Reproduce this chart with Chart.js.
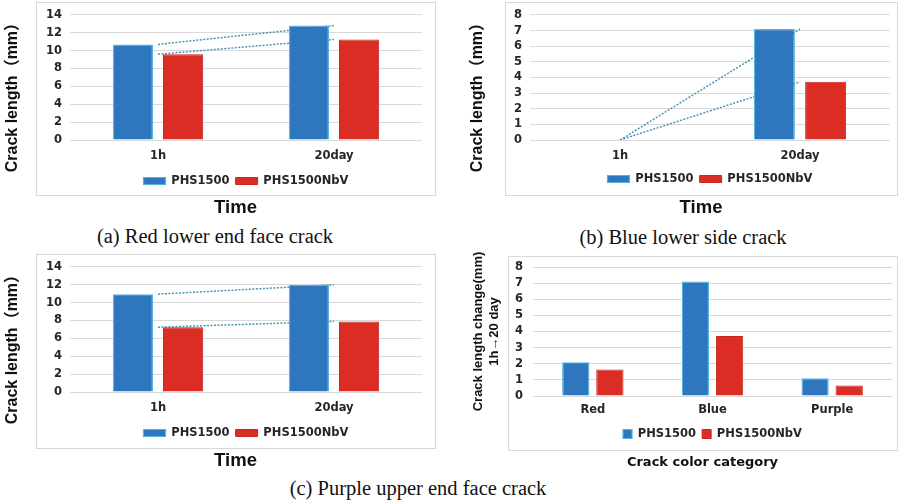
<!DOCTYPE html>
<html><head><meta charset="utf-8">
<script src="https://cdn.jsdelivr.net/npm/chart.js@4.4.1/dist/chart.umd.min.js"></script>
<style>
html,body{margin:0;padding:0;background:#fff;}
#page{position:relative;width:902px;height:500px;overflow:hidden;background:#fff;}
canvas{position:absolute;}
.cap{position:absolute;transform:translate(-50%,-50%);font-family:'Liberation Serif','Times New Roman',serif;font-size:20.5px;color:#111;white-space:nowrap;line-height:1;}
</style></head><body>
<div id="page">
<canvas id="cA" width="450" height="222" style="left:0;top:0"></canvas>
<canvas id="cB" width="452" height="222" style="left:450px;top:0"></canvas>
<canvas id="cC" width="450" height="222" style="left:0;top:252px"></canvas>
<canvas id="cD" width="452" height="222" style="left:450px;top:250px"></canvas>
<div class="cap" style="left:215px;top:236px">(a) Red lower end face crack</div>
<div class="cap" style="left:683px;top:237px">(b) Blue lower side crack</div>
<div class="cap" style="left:418px;top:488px">(c) Purple upper end face crack</div>
</div>
<script>
// ---- data ----
const timeLabels = ['1h', '20day'];
const colorCategories = ['Red', 'Blue', 'Purple'];
const seriesNames = ['PHS1500', 'PHS1500NbV'];
const redPHS1500 = [10.7, 12.8];
const redPHS1500NbV = [9.6, 11.25];
const bluePHS1500 = [0, 7.1];
const bluePHS1500NbV = [0, 3.72];
const purplePHS1500 = [10.95, 12.0];
const purplePHS1500NbV = [7.25, 7.9];
const changePHS1500 = [2.1, 7.1, 1.1];
const changePHS1500NbV = [1.65, 3.72, 0.65];
const yTitleTime = 'Crack length（mm）';
const yTitleChange = ['Crack length change(mm)', '1h→20 day'];
const xTitleTime = 'Time';
const xTitleCategory = 'Crack color category';

// ---- styles ----
const BLUE = '#2e76be', BLUE_EDGE = '#56b3dc';
const RED = '#dc2d24', RED_EDGE = '#c42820';
const TREND = '#4d93b3';
const GRID = '#d9d9d9';
const TXT = '#262626';
const TICK_FONT = {family: "'DejaVu Sans', Verdana, sans-serif", weight: 'bold', size: 11.5};
const SANS = "'Liberation Sans', Arial, 'Noto Sans CJK SC', sans-serif";

const frameTitlePlugin = {
  id: 'frameTitle',
  beforeDraw(chart, args, o) {
    const c = chart.ctx; c.save();
    c.strokeStyle = o.frameColor; c.lineWidth = 1;
    c.strokeRect(o.fx + 0.5, o.fy + 0.5, o.fw, o.fh);
    c.restore();
  },
  afterDraw(chart, args, o) {
    const c = chart.ctx; c.save();
    c.font = o.font; c.fillStyle = o.color; c.textAlign = 'center'; c.textBaseline = 'middle';
    c.fillText(o.text, o.fx + o.fw / 2, o.ty);
    c.restore();
  }
};

function buildChart(id, o) {
  const datasets = [
    {type: 'bar', label: seriesNames[0], data: o.s1, backgroundColor: BLUE, borderColor: BLUE_EDGE, borderWidth: 1.2, order: 1},
    {type: 'bar', label: seriesNames[1], data: o.s2, backgroundColor: RED, borderColor: RED_EDGE, borderWidth: 1, order: 1}
  ];
  if (o.trend) {
    [o.s1, o.s2].forEach((d, i) => datasets.push({
      type: 'line', label: 'trend' + i, data: d, isTrend: true, borderColor: TREND, borderWidth: 1.5,
      borderDash: [2, 1.5], pointRadius: 0, fill: false, tension: 0, order: 2
    }));
  }
  const yLH = o.yTitleSize * o.yTitleLH;
  return new Chart(document.getElementById(id), {
    type: 'bar',
    data: {labels: o.labels, datasets},
    options: {
      responsive: false, animation: false, devicePixelRatio: 1,
      datasets: {bar: {categoryPercentage: 0.57, barPercentage: 0.8}},
      layout: {padding: o.pad},
      plugins: {
        legend: {
          position: 'bottom', fullSize: false,
          labels: {
            boxWidth: o.boxW, boxHeight: o.boxH, padding: 6, color: TXT, font: TICK_FONT,
            filter: (item, data) => !data.datasets[item.datasetIndex].isTrend
          }
        },
        tooltip: {enabled: false},
        frameTitle: Object.assign({frameColor: GRID, color: '#111', text: o.xTitle, font: o.xTitleFont}, o.frame)
      },
      scales: {
        x: {
          grid: {display: false, drawTicks: false}, border: {display: false},
          ticks: {padding: o.xPad, color: TXT, font: TICK_FONT},
          afterFit(s) { s.height = o.xH; }
        },
        y: {
          min: 0, max: o.yMax,
          ticks: {stepSize: o.yStep, padding: o.yPad, color: TXT, font: TICK_FONT, autoSkip: false},
          grid: {color: GRID, drawTicks: false, lineWidth: 1}, border: {display: false},
          title: {
            display: true, text: o.yTitle, align: o.yAlign, color: '#111',
            font: {family: SANS, weight: 'bold', size: o.yTitleSize, lineHeight: o.yTitleLH},
            padding: {top: o.yTitleCenter - yLH / 2, bottom: 0}
          },
          afterFit(s) { s.width = o.yW; }
        }
      }
    },
    plugins: [frameTitlePlugin]
  });
}

const timeTitleFont = "bold 18.5px 'Liberation Sans', Arial, sans-serif";

buildChart('cA', {
  labels: timeLabels, s1: redPHS1500, s2: redPHS1500NbV, trend: true,
  yMax: 14, yStep: 2, yTitle: yTitleTime, yAlign: 'end', yTitleSize: 16, yTitleLH: 1.2, yTitleCenter: 13,
  yW: 70, yPad: 8, xPad: 9, xH: 29.25, boxW: 22, boxH: 7,
  pad: {top: 13, right: 28, left: 0, bottom: 25.25},
  xTitle: xTitleTime, xTitleFont: timeTitleFont,
  frame: {fx: 36, fy: 2, fw: 399, fh: 193, ty: 208}
});
buildChart('cB', {
  labels: timeLabels, s1: bluePHS1500, s2: bluePHS1500NbV, trend: true,
  yMax: 8, yStep: 1, yTitle: yTitleTime, yAlign: 'end', yTitleSize: 16, yTitleLH: 1.2, yTitleCenter: 28,
  yW: 80, yPad: 8, xPad: 9, xH: 27.25, boxW: 22, boxH: 7,
  pad: {top: 13, right: 12, left: 0, bottom: 27.25},
  xTitle: xTitleTime, xTitleFont: timeTitleFont,
  frame: {fx: 55, fy: 2, fw: 392, fh: 193, ty: 208}
});
buildChart('cC', {
  labels: timeLabels, s1: purplePHS1500, s2: purplePHS1500NbV, trend: true,
  yMax: 14, yStep: 2, yTitle: yTitleTime, yAlign: 'end', yTitleSize: 16, yTitleLH: 1.2, yTitleCenter: 13,
  yW: 70, yPad: 8, xPad: 9, xH: 29.25, boxW: 22, boxH: 7,
  pad: {top: 13, right: 28, left: 0, bottom: 25.25},
  xTitle: xTitleTime, xTitleFont: timeTitleFont,
  frame: {fx: 36, fy: 2, fw: 399, fh: 194, ty: 209}
});
buildChart('cD', {
  labels: colorCategories, s1: changePHS1500, s2: changePHS1500NbV, trend: false,
  yMax: 8, yStep: 1, yTitle: yTitleChange, yAlign: 'center', yTitleSize: 13, yTitleLH: 1.3, yTitleCenter: 28,
  yW: 83, yPad: 10, xPad: 7, xH: 26.25, boxW: 9, boxH: 9,
  pad: {top: 17, right: 10, left: 0, bottom: 22.25},
  xTitle: xTitleCategory, xTitleFont: "bold 13px 'DejaVu Sans', Verdana, sans-serif",
  frame: {fx: 58, fy: 6, fw: 389, fh: 194, ty: 213}
});
</script>
</body></html>
